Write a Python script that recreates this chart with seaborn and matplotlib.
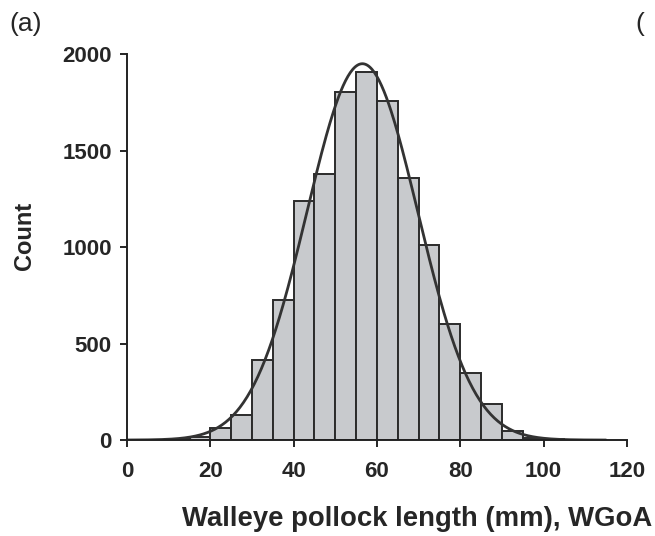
import numpy as np
import pandas as pd
import matplotlib
matplotlib.use("Agg")
import matplotlib.pyplot as plt
import seaborn as sns

# Data
bin_left = [5, 10, 15, 20, 25, 30, 35, 40, 45, 50, 55, 60, 65, 70, 75, 80, 85, 90, 95, 100]
counts = [2, 5, 15, 62, 130, 415, 725, 1240, 1378, 1805, 1905, 1758, 1356, 1010, 600, 349, 185, 48, 12, 4]
bin_width = 5
curve_mean = 56.5
curve_sd = 13.3
x_ticks = [0, 20, 40, 60, 80, 100, 120]
y_ticks = [0, 500, 1000, 1500, 2000]

sns.set_style("ticks")
plt.rcParams['font.family'] = ['Liberation Sans', 'DejaVu Sans']
plt.rcParams['font.weight'] = 'bold'

fig = plt.figure(figsize=(6.55, 5.36), dpi=100)
ax = fig.add_axes([0.194, 0.179, 0.763, 0.720])

df = pd.DataFrame({"center": np.array(bin_left) + bin_width / 2, "count": counts})
edges = list(bin_left) + [bin_left[-1] + bin_width]
sns.histplot(data=df, x="center", weights="count", bins=edges, ax=ax,
             color="#C8CACD", edgecolor="#2b2b2b", linewidth=1.4, alpha=1)

n_total = float(np.sum(counts))
xs = np.linspace(0, 115, 400)
ys = n_total * bin_width / (curve_sd * np.sqrt(2 * np.pi)) * np.exp(-0.5 * ((xs - curve_mean) / curve_sd) ** 2)
sns.lineplot(x=xs, y=ys, ax=ax, color="#333333", linewidth=2.0)

ax.set_xlim(0, 120)
ax.set_ylim(0, 2000)
ax.set_xticks(x_ticks)
ax.set_yticks(y_ticks)
ax.tick_params(axis='both', labelsize=16, width=1.4, length=5, direction='out')
ax.tick_params(axis='x', pad=10)
ax.tick_params(axis='y', pad=6)
for lab in ax.get_xticklabels() + ax.get_yticklabels():
    lab.set_fontweight('bold')
for s in ['top', 'right']:
    ax.spines[s].set_visible(False)
for s in ['left', 'bottom']:
    ax.spines[s].set_linewidth(1.4)
    ax.spines[s].set_color('#222222')

ax.set_xlabel("Walleye pollock length (mm), WGoA", fontsize=19.8, fontweight='bold')
ax.xaxis.set_label_coords(0.581, -0.205)
ax.get_xaxis().label.set_va('center')
ax.set_ylabel("Count", fontsize=17, fontweight='bold')
ax.yaxis.set_label_coords(-0.206, 0.528)
ax.get_yaxis().label.set_va('center')

fig.text(0.015, 0.955, "(a)", fontsize=19, fontweight='normal', ha='left', va='center')
fig.text(0.97, 0.955, "(", fontsize=19, fontweight='normal', ha='left', va='center')

fig.savefig("out.png", dpi=100)
